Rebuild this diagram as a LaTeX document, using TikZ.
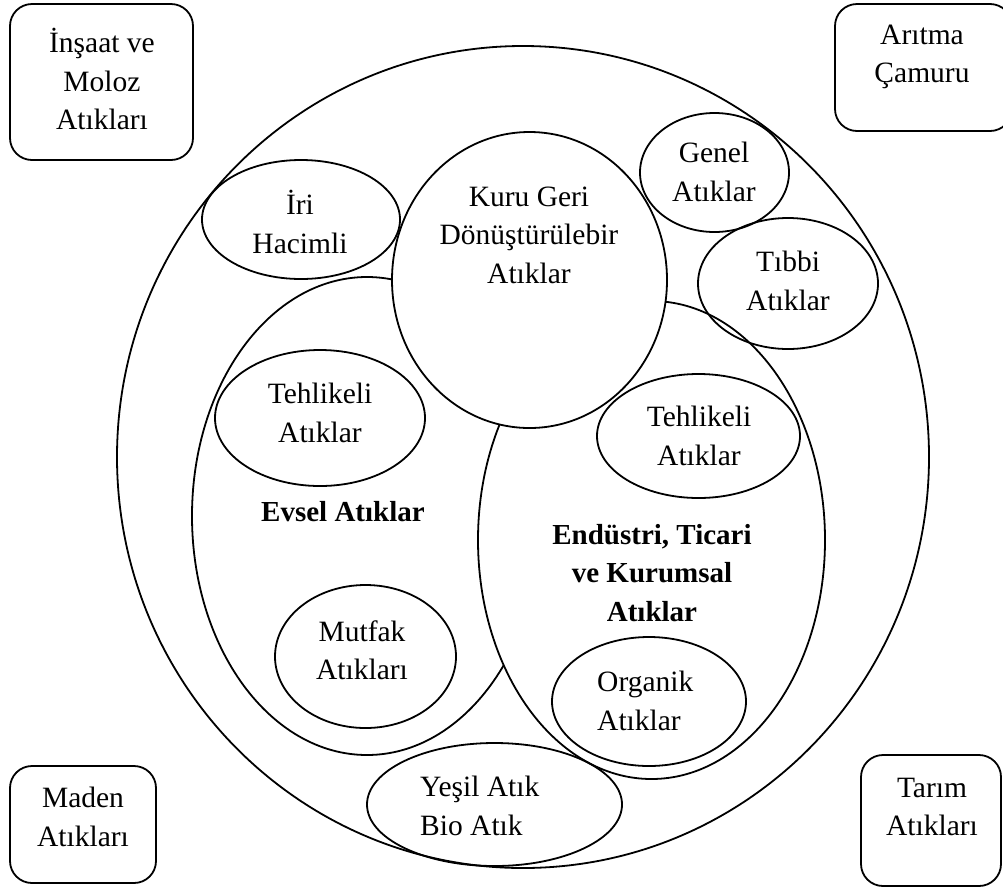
\documentclass[tikz,border=0pt]{standalone}
\usepackage{fontspec}
\setmainfont{Liberation Serif}
\tikzset{rim/.style={line width=1.8pt},kutu/.style={rim,rounded corners=22pt},
  every node/.style={font=\fontsize{29.5}{38.5}\selectfont,align=center,inner sep=0pt},
  koyu/.style={font=\fontsize{29}{38.5}\selectfont\bfseries}}

\begin{document}
\begin{tikzpicture}[x=1pt,y=-1pt]
\useasboundingbox (0,0) rectangle (1003,887);
% dis cember ve ana kumeler
\draw[rim] (523,457) ellipse (406 and 411);
\draw[rim,fill=white] (367,516) ellipse (175 and 239);
\draw[rim,fill=white] (651.5,540) ellipse (173.5 and 239);
\draw[rim,fill=white] (529.5,280) ellipse (137.5 and 148);
% kucuk kumeler
\foreach \x/\y/\a/\b in {301/219.5/99/59.5,714.5/172.5/74.5/59.5,788/283.5/90/65.5,320/418/105/68,698.5/436/101.5/62,365.5/656.5/90.5/71.5,649/701.5/97/64.5,494.5/804.5/127.5/61.5}{\draw[rim] (\x,\y) ellipse[x radius=\a,y radius=\b];}
% kose kutulari
\draw[kutu] (10,4) rectangle (193,160);\draw[kutu] (835,4) rectangle (1012,131);
\draw[kutu] (10,766) rectangle (156,883);\draw[kutu] (861,755) rectangle (1001,886);
\node (insaat) at (102,79) {İnşaat ve\\Moloz\\Atıkları};\node (aritma) at (922,57) {Arıtma\\Çamuru};
\node (maden) at (83,817) {Maden\\Atıkları};\node (tarim) at (932,807) {Tarım\\Atıkları};
\node (iri) at (300,222) {İri\\Hacimli};\node (kuru) at (529,235) {Kuru Geri\\Dönüştürülebir\\Atıklar};
\node (genel) at (714,172) {Genel\\Atıklar};\node (tibbi) at (788,281) {Tıbbi\\Atıklar};
\node (tehlikeA) at (320,413) {Tehlikeli\\Atıklar};\node (tehlikeB) at (699,436) {Tehlikeli\\Atıklar};
\node[koyu] (evsel) at (343,512) {Evsel Atıklar};
\node[koyu] (endustri) at (652,573) {Endüstri, Ticari\\ve Kurumsal\\Atıklar};
\node (mutfak) at (362,650) {Mutfak\\Atıkları};
\node[align=left,anchor=west] (organik) at (597,701) {Organik\\Atıklar};
\node[align=left,anchor=west] (yesil) at (420,806) {Yeşil Atık\\Bio Atık};
\end{tikzpicture}
\end{document}
